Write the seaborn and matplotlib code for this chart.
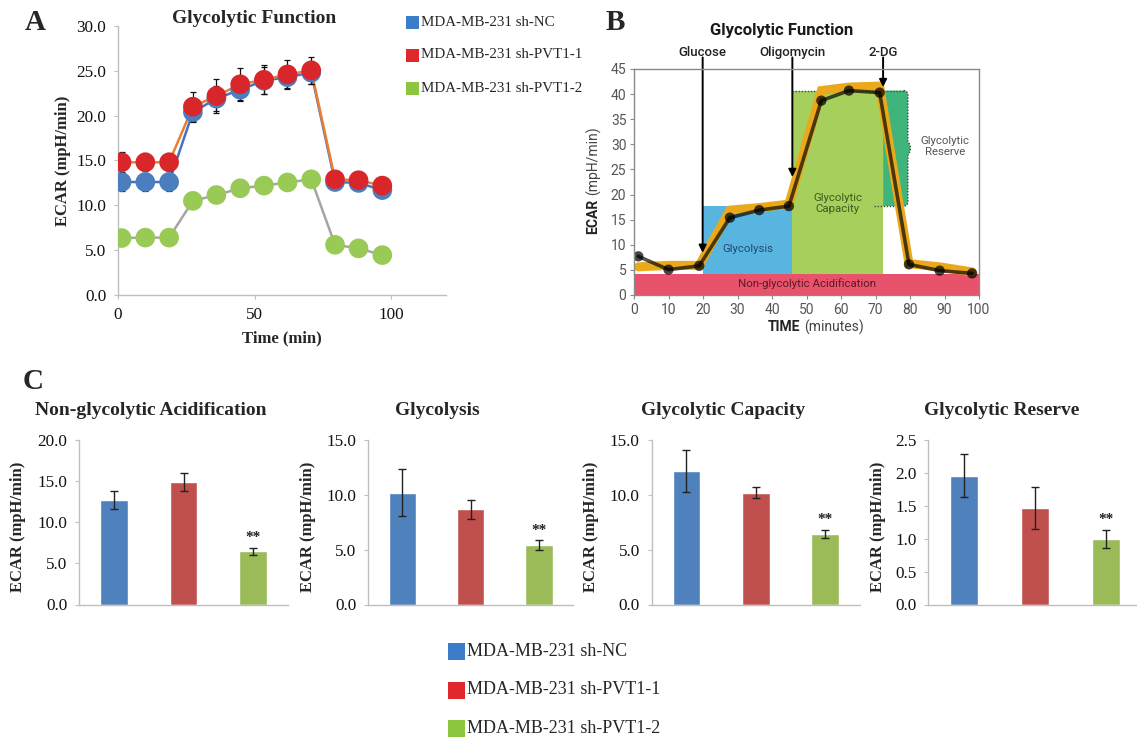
import numpy as np
import pandas as pd
import matplotlib
matplotlib.use("Agg")
import matplotlib.pyplot as plt
import seaborn as sns
from matplotlib.patches import Rectangle, PathPatch
from matplotlib.path import Path

# ------------------------------------------------------------------ data
groups = ["MDA-MB-231 sh-NC", "MDA-MB-231 sh-PVT1-1", "MDA-MB-231 sh-PVT1-2"]

# Panel A: ECAR time course
time_a = [1.3, 10.0, 18.7, 27.4, 36.0, 44.7, 53.4, 62.0, 70.7, 79.4, 88.0, 96.7]
ecar_nc = [12.6, 12.6, 12.6, 20.4, 21.9, 22.9, 23.9, 24.3, 24.8, 12.6, 12.5, 11.7]
ecar_p1 = [14.8, 14.8, 14.8, 21.0, 22.2, 23.5, 24.0, 24.6, 25.05, 12.9, 12.8, 12.2]
ecar_p2 = [6.35, 6.4, 6.4, 10.5, 11.15, 11.9, 12.2, 12.55, 12.9, 5.6, 5.2, 4.45]
err_nc = [1.0, 1.0, 1.0, 1.1, 1.4, 1.2, 1.5, 1.2, 1.3, 0.4, 0.4, 0.4]
err_p1 = [1.1, 1.0, 1.0, 1.6, 1.9, 1.85, 1.6, 1.6, 1.5, 0.4, 0.4, 0.5]
err_p2 = [0.3, 0.3, 0.3, 0.3, 0.3, 0.5, 0.4, 0.6, 0.6, 0.3, 0.3, 0.3]

# Panel B: schematic glycolytic stress test
time_b = [1.25, 10.0, 18.9, 27.8, 36.3, 44.9, 54.3, 62.3, 71.2, 79.7, 88.6, 98.0]
ecar_b = [7.7, 5.05, 5.8, 15.4, 16.9, 17.7, 38.7, 40.7, 40.3, 6.1, 4.85, 4.3]
ideal_b = [5.6, 5.9, 5.9, 16.9, 17.4, 18.1, 40.7, 41.4, 41.6, 6.25, 5.6, 4.6]
inject_names = ["Glucose", "Oligomycin", "2-DG"]
inject_times = [19.9, 45.9, 72.2]
inject_tips = [8.4, 23.5, 41.4]
nonglyc_level = 4.2
glycolysis_level = 17.7
capacity_level = 40.7
reserve_end = 79.4

# Panel C: bar charts
c_titles = ["Non-glycolytic Acidification", "Glycolysis", "Glycolytic Capacity", "Glycolytic Reserve"]
nonglyc_vals = [12.73, 14.87, 6.46]
nonglyc_err = [1.08, 1.09, 0.42]
glyco_vals = [10.21, 8.69, 5.40]
glyco_err = [2.13, 0.85, 0.45]
capacity_vals = [12.16, 10.21, 6.43]
capacity_err = [1.92, 0.52, 0.40]
reserve_vals = [1.956, 1.468, 0.996]
reserve_err = [0.325, 0.32, 0.142]
c_ymax = [20.0, 15.0, 15.0, 2.5]
c_ystep = [5.0, 5.0, 5.0, 0.5]
stars = ["", "", "**"]

# ------------------------------------------------------------------ style
sns.set_theme(style="white")
plt.rcParams["font.family"] = ["Liberation Serif", "DejaVu Serif"]
plt.rcParams["axes.edgecolor"] = "#bfbfbf"

W, H = 1137, 743
fig = plt.figure(figsize=(W / 100, H / 100), dpi=100)


def ax_px(l, t, r, b):
    return fig.add_axes([l / W, 1 - b / H, (r - l) / W, (b - t) / H])


def ftext(x, y, s, **kw):
    return fig.text(x / W, 1 - y / H, s, **kw)


def square(x, y, size, color):
    fig.add_artist(Rectangle((x / W, 1 - (y + size / 2) / H), size / W, size / H,
                             transform=fig.transFigure, facecolor=color,
                             edgecolor="none"))


line_cols = ["#4472c4", "#ed7d31", "#a5a5a5"]
mark_cols = ["#4a7ebf", "#d8262b", "#98ca55"]
leg_cols = ["#3c7dc9", "#e0272c", "#8cc63f"]
bar_cols = ["#4f81bd", "#c0504d", "#9bbb59"]

# ------------------------------------------------------------------ panel A
axA = ax_px(118, 26, 446, 295)
df_a = pd.DataFrame({
    "time": time_a * 3,
    "ecar": ecar_nc + ecar_p1 + ecar_p2,
    "err": err_nc + err_p1 + err_p2,
    "group": [g for g in groups for _ in time_a],
})
sns.lineplot(data=df_a, x="time", y="ecar", hue="group", hue_order=groups,
             palette=line_cols, linewidth=1.8, legend=False, errorbar=None,
             ax=axA, zorder=2)
for g in groups:
    sub = df_a[df_a["group"] == g]
    axA.errorbar(sub["time"], sub["ecar"], yerr=sub["err"], fmt="none",
                 ecolor="#111111", elinewidth=0.9, capsize=2.3, capthick=0.9,
                 zorder=3)
sns.scatterplot(data=df_a, x="time", y="ecar", hue="group", hue_order=groups,
                palette=mark_cols, s=200, edgecolor="none", legend=False,
                ax=axA, zorder=4)
axA.set_xlim(0, 120)
axA.set_ylim(0, 30)
axA.set_xticks([0, 50, 100])
axA.set_yticks(np.arange(0, 30.1, 5))
axA.set_yticklabels([f"{v:.1f}" for v in np.arange(0, 30.1, 5)])
axA.set_xlabel("")
axA.set_ylabel("")
sns.despine(ax=axA)
for s in ["left", "bottom"]:
    axA.spines[s].set_color("#bfbfbf")
    axA.spines[s].set_linewidth(1.0)
axA.tick_params(axis="both", direction="out", length=3, width=0.8,
                color="#bfbfbf", labelsize=12.3, pad=5.5, labelcolor="#111111")
axA.tick_params(axis="both", which="both", left=True, bottom=True)
ftext(254, 18.5, "Glycolytic Function", fontsize=14, fontweight="bold",
      ha="center", va="center")
ftext(63, 161, "ECAR (mpH/min)", fontsize=12, fontweight="bold",
      rotation=90, ha="center", va="center")
ftext(282, 338, "Time (min)", fontsize=12, fontweight="bold",
      ha="center", va="center")
for i, (g, c) in enumerate(zip(groups, leg_cols)):
    y = [22.7, 55.0, 88.3][i]
    square(406, y, 13, c)
    ftext(421, y, g, fontsize=10.8, ha="left", va="center")

ftext(35, 22, "A", fontsize=21, fontweight="bold", ha="center", va="center")
ftext(615, 22, "B", fontsize=21, fontweight="bold", ha="center", va="center")
ftext(33, 381, "C", fontsize=21, fontweight="bold", ha="center", va="center")

# ------------------------------------------------------------------ panel B
sans = ["Roboto", "DejaVu Sans"]
axB = ax_px(634, 69, 979, 295)
axB.add_patch(Rectangle((0, 0), 100, nonglyc_level, facecolor="#e8526a",
                        edgecolor="none", zorder=1))
axB.add_patch(Rectangle((inject_times[0], nonglyc_level),
                        inject_times[1] - inject_times[0],
                        glycolysis_level - nonglyc_level,
                        facecolor="#58b5e0", edgecolor="none", zorder=1))
axB.add_patch(Rectangle((inject_times[1], nonglyc_level),
                        inject_times[2] - inject_times[1],
                        capacity_level - nonglyc_level,
                        facecolor="#a7cf5c", edgecolor="none", zorder=1))
# glycolytic reserve with curly brace edge
mid = (capacity_level + glycolysis_level) / 2
rx0, rx1 = inject_times[2], reserve_end
verts = [(rx0, capacity_level), (rx1 - 1.2, capacity_level),
         (rx1, capacity_level), (rx1, capacity_level - 1.0),
         (rx1, mid + 1.4), (rx1 + 1.5, mid), (rx1, mid - 1.4),
         (rx1, glycolysis_level + 1.0), (rx1, glycolysis_level),
         (rx1 - 1.2, glycolysis_level), (rx0, glycolysis_level),
         (rx0, capacity_level)]
codes = [Path.MOVETO, Path.LINETO, Path.CURVE3, Path.CURVE3, Path.LINETO,
         Path.CURVE3, Path.CURVE3, Path.LINETO, Path.CURVE3, Path.CURVE3,
         Path.LINETO, Path.CLOSEPOLY]
axB.add_patch(PathPatch(Path(verts, codes), facecolor="#40b57b",
                        edgecolor="none", zorder=1))
brace = verts[1:10]
bcodes = [Path.MOVETO] + codes[2:10]
axB.add_patch(PathPatch(Path(brace, bcodes), facecolor="none",
                        edgecolor="#2e5a3a", linestyle=(0, (1, 1.2)),
                        linewidth=1.0, zorder=2))
axB.plot([inject_times[1], rx1 - 1.2], [capacity_level] * 2, color="#2e5a3a",
         linestyle=(0, (1, 1.2)), linewidth=1.0, zorder=2)
axB.plot([69.5, rx1 - 1.2], [glycolysis_level] * 2, color="#2e5a3a",
         linestyle=(0, (1, 1.2)), linewidth=1.0, zorder=2)

sns.lineplot(x=time_b, y=ideal_b, color="#eaa91c", linewidth=6.5, ax=axB,
             zorder=3, solid_joinstyle="miter")
sns.lineplot(x=time_b, y=ecar_b, color="black", linewidth=2.6, alpha=0.68,
             ax=axB, zorder=4)
sns.scatterplot(x=time_b, y=ecar_b, color="black", s=55, alpha=0.72,
                edgecolor="none", ax=axB, zorder=5)

axB.text(50, 2.2, "Non-glycolytic Acidification", fontsize=8.2, color="#5c1a26",
         ha="center", va="center", family=sans, zorder=6)
axB.text(32.9, 9.1, "Glycolysis", fontsize=8.2, color="#27476b",
         ha="center", va="center", family=sans, zorder=6)
axB.text(59, 18.2, "Glycolytic\nCapacity", fontsize=8.2, color="#3d5a1f",
         ha="center", va="center", family=sans, linespacing=1.1, zorder=6)
axB.text(90.1, 29.5, "Glycolytic\nReserve", fontsize=8.2, color="#555555",
         ha="center", va="center", family=sans, linespacing=1.1, zorder=6)

for name, t, tip in zip(inject_names, inject_times, inject_tips):
    axB.annotate("", xy=(t, tip), xytext=(t, 47.3),
                 arrowprops=dict(arrowstyle="-|>", color="black", lw=1.4,
                                 mutation_scale=11, shrinkA=0, shrinkB=0),
                 annotation_clip=False, zorder=7)
    axB.text(t, 48.2, name, fontsize=9.5, color="#222222", ha="center",
             va="center", family=sans, fontweight="medium", clip_on=False)

axB.set_xlim(0, 100)
axB.set_ylim(0, 45)
axB.set_xticks(np.arange(0, 101, 10))
axB.set_yticks(np.arange(0, 46, 5))
axB.set_xlabel("")
axB.set_ylabel("")
for s in axB.spines.values():
    s.set_color("#8a8a8a")
    s.set_linewidth(1.0)
    s.set_visible(True)
    s.set_zorder(8)
axB.tick_params(axis="both", direction="out", length=3, width=0.8,
                color="#8a8a8a", labelsize=10, pad=2.5, labelcolor="#555555",
                left=True, bottom=True)
for lab in axB.get_xticklabels() + axB.get_yticklabels():
    lab.set_family(sans)
ftext(782, 31, "Glycolytic Function", fontsize=12, fontweight="bold",
      ha="center", va="center", family=sans, color="#1a1a1a")
ftext(593, 216, "ECAR", fontsize=10, fontweight="bold", rotation=90,
      ha="center", va="center", family=sans, color="#222222")
ftext(593, 161, "(mpH/min)", fontsize=10, rotation=90, ha="center",
      va="center", family=sans, color="#444444")
ftext(783.5, 327, "TIME", fontsize=10, fontweight="bold", ha="center",
      va="center", family=sans, color="#222222")
ftext(834, 327, "(minutes)", fontsize=10, ha="center", va="center",
      family=sans, color="#444444")

# ------------------------------------------------------------------ panel C
c_vals = [nonglyc_vals, glyco_vals, capacity_vals, reserve_vals]
c_errs = [nonglyc_err, glyco_err, capacity_err, reserve_err]
c_boxes = [(79.3, 287.8), (368.3, 573.0), (651.7, 860.0), (928.3, 1141.3)]
c_ylab_x = [18, 308, 591, 878]
for k in range(4):
    l, r = c_boxes[k]
    ax = ax_px(l, 440, r, 604.5)
    dfc = pd.DataFrame({"group": groups, "ecar": c_vals[k]})
    sns.barplot(data=dfc, x="group", y="ecar", hue="group", hue_order=groups,
                order=groups, palette=bar_cols, width=0.4, saturation=1,
                errorbar=None, legend=False, ax=ax, zorder=2)
    ax.errorbar(range(3), c_vals[k], yerr=c_errs[k], fmt="none",
                ecolor="#222222", elinewidth=1.0, capsize=3, capthick=1.0,
                zorder=3)
    for i, s in enumerate(stars):
        if s:
            ax.annotate(s, xy=(i, c_vals[k][i] + c_errs[k][i]),
                        xytext=(0, 2.5), textcoords="offset points",
                        ha="center", va="bottom", fontsize=11,
                        fontweight="bold", color="#222222")
    ax.set_xlim(-0.5, 2.5)
    ax.set_ylim(0, c_ymax[k])
    ticks = np.arange(0, c_ymax[k] + 1e-9, c_ystep[k])
    ax.set_yticks(ticks)
    ax.set_yticklabels([f"{v:.1f}" for v in ticks])
    ax.set_xticks([])
    ax.set_xlabel("")
    ax.set_ylabel("")
    sns.despine(ax=ax)
    for s in ["left", "bottom"]:
        ax.spines[s].set_color("#bfbfbf")
        ax.spines[s].set_linewidth(1.0)
    ax.tick_params(axis="y", direction="out", length=3, width=0.8,
                   color="#bfbfbf", labelsize=12.3, pad=5.5,
                   labelcolor="#111111", left=True)
    ftext((l + r) / 2 - 33, 411, c_titles[k], fontsize=14, fontweight="bold",
          ha="center", va="center")
    ftext(c_ylab_x[k], 527, "ECAR (mpH/min)", fontsize=12, fontweight="bold",
          rotation=90, ha="center", va="center")

for i, (g, c) in enumerate(zip(groups, leg_cols)):
    y = [651.7, 690.0, 728.3][i]
    square(448, y, 17, c)
    ftext(467, y, g, fontsize=13, ha="left", va="center")

fig.savefig("out.png", dpi=100)
